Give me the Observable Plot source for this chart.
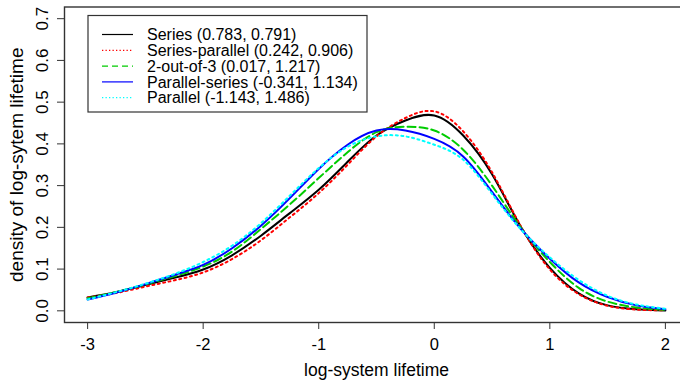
<!DOCTYPE html>
<html><head><meta charset="utf-8">
<script src="https://cdn.jsdelivr.net/npm/d3@7"></script>
<script src="https://cdn.jsdelivr.net/npm/@observablehq/plot@0.6"></script>
<style>body{margin:0;background:#fff;} #chart{width:680px;height:388px;overflow:hidden;}</style>
</head><body><div id="chart"></div>
<script>
// x grid (log-system lifetime)
const xGrid = [-3,-2.75,-2.5,-2.25,-2,-1.75,-1.5,-1.25,-1,-0.75,-0.5,-0.25,0,0.25,0.5,0.75,1,1.25,1.5,1.75,2];
// density values
const seriesVals         = [0.032,0.045,0.062,0.079,0.099,0.133,0.180,0.234,0.290,0.357,0.420,0.456,0.468,0.420,0.327,0.201,0.103,0.042,0.013,0.004,0.001];
const seriesParallelVals = [0.032,0.043,0.058,0.073,0.092,0.124,0.169,0.224,0.282,0.350,0.418,0.462,0.478,0.430,0.332,0.202,0.099,0.040,0.012,0.003,0.001];
const twoOutOf3Vals      = [0.030,0.045,0.063,0.083,0.106,0.142,0.196,0.255,0.318,0.380,0.428,0.441,0.432,0.386,0.300,0.199,0.117,0.055,0.022,0.008,0.002];
const parallelSeriesVals = [0.027,0.044,0.064,0.086,0.110,0.150,0.204,0.270,0.340,0.398,0.432,0.432,0.412,0.370,0.285,0.196,0.125,0.068,0.033,0.013,0.004];
const parallelVals       = [0.027,0.045,0.065,0.088,0.117,0.156,0.210,0.276,0.342,0.393,0.418,0.418,0.398,0.362,0.280,0.195,0.128,0.074,0.036,0.015,0.005];

const seriesNames = ["Series","Series-parallel","2-out-of-3","Parallel-series","Parallel"];
const legendLabels = ["Series (0.783, 0.791)","Series-parallel (0.242, 0.906)","2-out-of-3 (0.017, 1.217)","Parallel-series (-0.341, 1.134)","Parallel (-1.143, 1.486)"];
const seriesColors = ["#000000","#ff0000","#00cc00","#0000ff","#00ffff"];
const seriesDash = [null,"2,3.5","8,4",null,"2,3.5"];
const legendDash = [null,"1.3,2.2","6,4",null,"1.3,2.2"];
const allVals = [seriesVals, seriesParallelVals, twoOutOf3Vals, parallelSeriesVals, parallelVals];

const xTicks = [-3,-2,-1,0,1,2];
const yTicks = [0,0.1,0.2,0.3,0.4,0.5,0.6,0.7];
const xTitle = "log-system lifetime";
const yTitle = "density of log-sytem lifetime";

const FONT = "'Liberation Sans', Arial, Helvetica, sans-serif";

const tables = allVals.map((vals, i) => xGrid.map((x, j) => ({series: seriesNames[i], x, y: vals[j]})));

const lineMarks = tables.map((t, i) => Plot.line(t, {
  x: "x", y: "y", stroke: seriesColors[i], strokeWidth: 2,
  strokeDasharray: seriesDash[i] || undefined, curve: "natural"
}));

const plot = Plot.plot({
  width: 680, height: 388,
  marginLeft: 64, marginRight: -8, marginTop: 6.5, marginBottom: 66,
  x: {domain: [-3.2, 2.2], range: [64, 688]},
  y: {domain: [-0.028, 0.728], range: [322, 6.5]},
  style: {fontFamily: FONT, fontSize: "16px", color: "#000", background: "#fff"},
  marks: [
    Plot.axisX(xTicks, {tickSize: 7, tickPadding: 9, tickFormat: d => String(d), fontSize: 16.5, label: null, stroke: "#333"}),
    Plot.axisY(yTicks, {tickSize: 7, tickFormat: () => "", label: null, stroke: "#333"}),
    Plot.text(yTicks, {y: d => d, frameAnchor: "left", textAnchor: "middle", text: d => d.toFixed(1), rotate: -90, dx: -22, fontSize: 17}),
    Plot.text([xTitle], {frameAnchor: "bottom", textAnchor: "middle", dy: 53, fontSize: 17.5}),
    Plot.text([yTitle], {frameAnchor: "left", textAnchor: "middle", dx: -48, rotate: -90, fontSize: 19}),
    ...lineMarks,
    Plot.frame({stroke: "#333", strokeWidth: 1.4})
  ]
});

const svg = d3.select(plot);
const lg = svg.append("g").attr("font-family", FONT).attr("font-size", 16).attr("text-anchor", "start");
lg.append("rect").attr("x", 88).attr("y", 15.5).attr("width", 279).attr("height", 96.5)
  .attr("fill", "#fff").attr("stroke", "#333").attr("stroke-width", 1.2);
legendLabels.forEach((lab, i) => {
  const yy = 34.5 + i * 15.8;
  const ln = lg.append("line").attr("x1", 102).attr("x2", 133).attr("y1", yy).attr("y2", yy)
    .attr("stroke", seriesColors[i]).attr("stroke-width", 1.2);
  if (legendDash[i]) ln.attr("stroke-dasharray", legendDash[i]);
  lg.append("text").attr("x", 147).attr("y", yy).attr("dy", "0.35em").attr("text-anchor", "start").attr("fill", "#000").text(lab);
});

document.getElementById("chart").appendChild(plot);
</script>
</body></html>
